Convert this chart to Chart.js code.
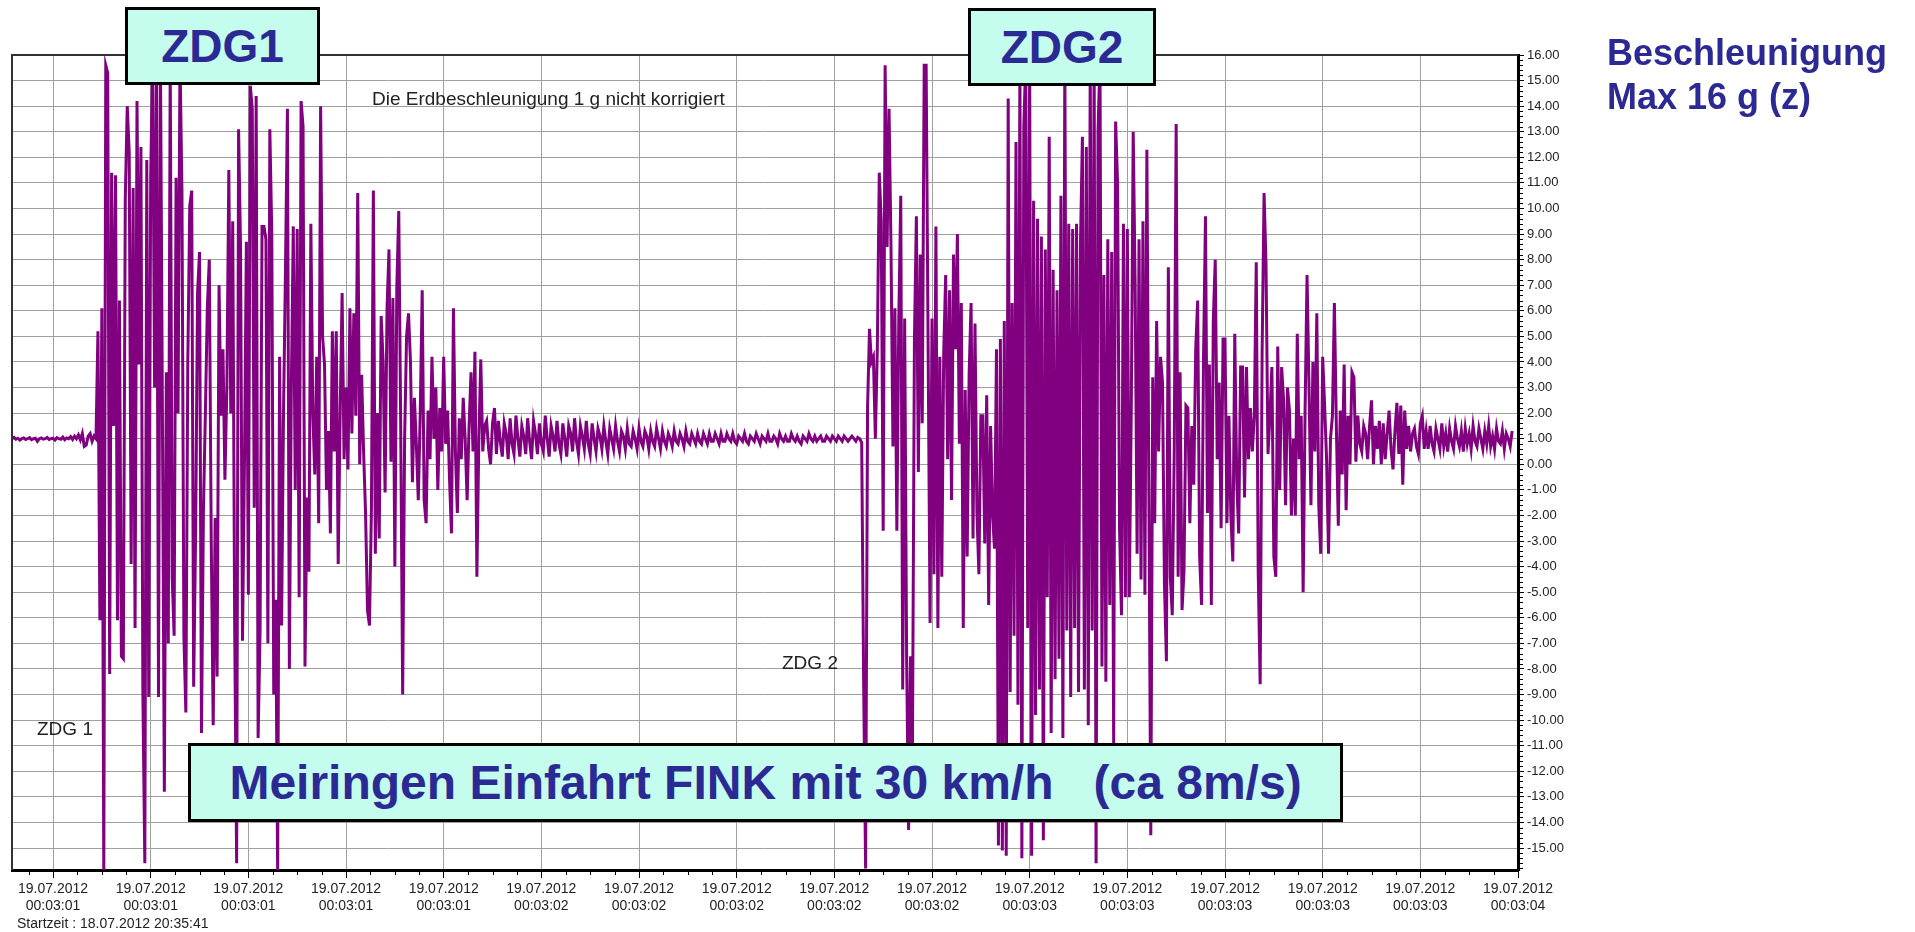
<!DOCTYPE html>
<html>
<head>
<meta charset="utf-8">
<title>Meiringen Einfahrt FINK</title>
<script src="https://cdn.jsdelivr.net/npm/chart.js@4.4.1/dist/chart.umd.min.js"></script>
<style>
  body { margin: 0; background: #fff; }
  #wrap { position: relative; width: 1915px; height: 932px; font-family: "Liberation Sans", Arial, sans-serif; }
  #wrap canvas { position: absolute; left: 0; top: 0; }
  .box { position: absolute; box-sizing: border-box; background: #c4fdee; border: 3px solid #000; color: #2b2a94;
         font-weight: bold; display: flex; align-items: center; justify-content: center; white-space: pre; }
  .note { position: absolute; color: #222; white-space: pre; line-height: 1; }
</style>
</head>
<body>
<div id="wrap">
  <canvas id="chart" width="1915" height="932"></canvas>
  <div class="note" style="left:372px;top:89px;font-size:19px">Die Erdbeschleunigung 1 g nicht korrigiert</div>
  <div class="note" style="left:37px;top:719px;font-size:19px">ZDG 1</div>
  <div class="note" style="left:782px;top:653px;font-size:19px">ZDG 2</div>
  <div class="note" style="left:17px;top:916px;font-size:14px">Startzeit : 18.07.2012 20:35:41</div>
  <div class="box" style="left:125px;top:7px;width:195px;height:78px;font-size:46px">ZDG1</div>
  <div class="box" style="left:968px;top:8px;width:188px;height:78px;font-size:46px">ZDG2</div>
  <div class="box" style="left:188px;top:743px;width:1155px;height:79px;font-size:48px">Meiringen Einfahrt FINK mit 30 km/h   (ca 8m/s)</div>
  <div style="position:absolute;left:1607px;top:31px;font-size:36px;line-height:44px;font-weight:bold;color:#2b2a94">Beschleunigung<br>Max 16 g (z)</div>
</div>
<script>
const FONT = '"Liberation Sans", Arial, sans-serif';

// recording: 250 samples per second, x axis in seconds from record start
const sampleRate = 250;
const tickStart = 0.084;
const tickStep = 0.2;

const xDate = "19.07.2012";
const xTimes = ["00:03:01", "00:03:01", "00:03:01", "00:03:01", "00:03:01",
  "00:03:02", "00:03:02", "00:03:02", "00:03:02", "00:03:02",
  "00:03:03", "00:03:03", "00:03:03", "00:03:03", "00:03:03", "00:03:04"];

const yTicks = [16, 15, 14, 13, 12, 11, 10, 9, 8, 7, 6, 5, 4, 3, 2, 1, 0,
  -1, -2, -3, -4, -5, -6, -7, -8, -9, -10, -11, -12, -13, -14, -15];

// acceleration in g
const quietStart = [1.0, 1.05, 0.98, 1.02, 0.95, 1.0, 1.03, 0.97, 1.0, 1.04,
  0.96, 1.0, 1.02, 0.9, 1.0, 1.03, 0.98, 1.0, 1.05, 0.97,
  1.0, 1.02, 0.95, 1.04, 1.0, 0.98, 1.06, 0.96, 1.03, 1.0,
  1.08, 0.97, 1.1, 1.0, 1.15, 0.95, 1.2, 0.7, 0.75, 1.1,
  1.2, 0.9, 1.1];

const burst1 = [1.0, 5.2, -6.1, 6.1, -15.9, 15.6, 15.3, -8.2, 11.4, 1.5,
  11.3, -6.1, 6.4, -7.5, -7.6, 10.4, 14.0, 12.2, -3.9, 10.8,
  -6.4, 14.2, 3.9, 12.4, -9.0, -15.6, 11.9, -9.1, 11.2, 15.9,
  3.0, 15.9, -9.1, 15.9, 2.0, -12.8, 3.6, -7.0, 15.9, -4.4,
  -6.7, 11.2, 2.0, 15.9, 10.7, -6.7, -9.7, 4.0, 10.1, 10.7,
  -8.7, -2.7, 6.7, 8.3, -10.5, -1.8, 2.0, 6.1, 8.0, -3.0,
  -10.2, -2.1, -8.3, 7.0, 1.9, 4.5, -0.6, 3.0, 11.5, 2.0,
  9.5, -6.4, -15.6, 13.1, 8.5, -6.9, 0.0, 8.7, -5.1, 14.8,
  13.9, -1.7, 14.4, -10.7, -6.5, 9.3, 9.3, 8.8, -7.0, 13.1,
  9.0, -9.0, -5.3, -15.9, 4.2, -6.3, 2.0, 7.6, 13.9, -8.0,
  3.0, 9.3, -1.0, 9.2, -5.2, 14.2, 13.2, -7.9, -1.3, -4.2,
  9.4, 2.0, -0.4, 4.2, -2.3, 14.0, 5.0, 3.9, -1.0, 1.3,
  -2.7, 5.2, 0.5, 5.2, -3.9, 2.0, 6.7, 0.2, 3.0, -0.2,
  6.1, 1.2, 5.9, 1.9, 10.6, 0.0, 3.5, 0.5, -1.9, -5.7,
  -6.3, -1.8, 10.7, -3.5, 2.0, -2.9, 5.8, 4.0, -1.1, 6.1,
  8.4, 0.1, 6.5, -4.0, 6.9, 9.9, 1.5, -9.0, 1.0, 5.0,
  5.9, 4.0, -0.7, 2.6, 0.8, -1.4, 2.0, 6.8, -1.4, -2.3,
  2.1, 0.2, 4.2, 1.0, 3.0, -1.0, 2.2, 0.5, 4.2, 0.8,
  2.1, -0.6, -2.7, 6.1, 0.5, -1.9, 1.8, 0.2, 2.6, 1.0,
  -1.4, 1.5, 3.6, 0.5, 4.4, -4.4, 1.0, 4.1, 0.5, 1.5,
  1.7, 0.6, 0.0, 1.6, 2.2, 0.4];

const quietMid = [1.7, 0.9, 0.3, 1.6, 1.2, 0.2, 1.8, 0.8, 0.4, 1.9,
  1.0, 0.3, 1.5, 1.1, 0.4, 1.8, 0.9, 0.2, 1.7, 1.2,
  0.4, 1.6, 0.8, 0.5, 1.9, 1.0, 0.3, 1.5, 1.1, 0.5,
  1.7, 0.8, 0.4, 1.6, 1.0, 0.3, 1.5, 1.2, 0.5, 1.8,
  0.9, 0.4, 1.5, 1.1, 0.6, 1.7, 0.8, 0.4, 1.6, 1.0,
  0.5, 1.4, 1.1, 0.6, 1.5, 0.9, 0.4, 1.4, 1.0, 0.6,
  1.5, 0.9, 0.5, 1.3, 1.1, 0.6, 1.4, 0.8, 0.7, 1.3,
  1.0, 0.6, 1.4, 0.9, 0.7, 1.3, 1.1, 0.6, 1.3, 0.9,
  0.7, 1.4, 1.0, 0.6, 1.3, 0.9, 0.7, 1.2, 1.0, 0.7,
  1.3, 0.9, 0.8, 1.2, 1.0, 0.7, 1.3, 0.9, 0.8, 1.2,
  1.0, 0.8, 1.2, 0.9, 0.8, 1.2, 1.0, 0.8, 1.2, 0.9,
  0.9, 1.2, 1.0, 0.8, 1.2, 0.9, 0.9, 1.2, 1.0, 0.9,
  1.2, 0.9, 0.8, 1.1, 1.0, 0.9, 1.2, 0.9, 0.8, 1.1,
  1.0, 0.9, 1.2, 1.0, 0.8, 1.1, 1.0, 0.9, 1.2, 0.9,
  0.9, 1.1, 1.0, 0.8, 1.2, 1.0, 0.9, 1.1, 0.9, 0.9,
  1.2, 1.0, 0.9, 1.1, 0.9, 0.8, 1.1, 1.0, 0.9, 1.2,
  1.0, 0.9, 1.1, 0.9, 1.0, 1.1, 0.9, 0.9, 1.1, 1.0,
  0.9, 1.1, 1.0, 0.9, 1.1, 1.0, 0.9, 1.1, 1.0, 0.9,
  1.0, 1.1, 1.0, 0.9, 1.05, 1.0, 0.85];

const burst2 = [-8.5, -15.8, 2.2, 5.3, 4.0, 4.2, 1.0, 4.5, 11.4, 9.5,
  -2.6, 15.6, 8.5, 13.9, 8.5, 0.7, 6.1, -2.6, 5.7, 10.5,
  -8.8, 5.7, -7.5, -14.3, -7.5, -10.9, 4.9, 9.7, -0.3, 8.2,
  1.6, 15.6, 15.6, 4.7, -6.2, 5.7, -4.3, 9.3, -6.4, 4.2,
  -4.4, 4.4, 7.4, 0.2, 6.8, -1.4, 8.2, 4.5, 9.0, 0.8,
  6.3, -6.4, 2.9, -3.6, 3.5, 6.3, -2.9, 5.5, -1.9, -4.3,
  1.9, 1.9, -3.1, 2.7, -5.5, 1.5, -2.0, -3.3, 4.5, -14.9,
  4.9, -15.1, 5.6, -15.3, 14.3, -8.9, 6.3, -6.7, 12.6, -9.4,
  15.9, -15.4, 13.2, 15.9, -6.4, 15.9, -15.3, 10.3, -9.8, 9.6,
  -8.8, 8.9, -14.7, 8.4, -5.2, 12.8, -10.5, 7.6, -8.4, 6.8,
  -7.6, 10.5, -10.7, 15.9, -6.5, 9.4, -9.1, 9.2, -6.4, 9.4,
  -8.9, 8.6, 12.8, -8.8, 12.4, -10.2, 15.9, -6.5, 15.9, -15.6,
  13.0, 15.9, -7.9, 7.4, -8.5, 8.8, -5.5, 8.3, -10.9, 13.4,
  11.0, -2.5, -5.9, 9.4, -5.2, 9.2, -5.2, 2.0, 13.0, 7.0,
  -3.5, 8.8, -4.5, 9.5, -5.1, 12.3, -0.8, -14.5, 3.4, -2.3,
  5.6, 0.5, 4.2, 3.2, -4.7, -7.7, 7.7, -4.4, -5.9, 0.5,
  13.3, -4.4, 3.6, -5.7, -4.2, 2.3, 2.2, -2.3, 1.5, -0.8,
  4.5, 6.4, -3.6, -5.5, 4.2, 9.7, -1.9, 3.9, -5.5, 5.6,
  8.0, 0.2, 3.2, -2.5, 4.9, 4.9, -2.3, 1.9, -2.0, -3.8,
  5.1, -0.6, -2.7, 3.8, 3.8, -1.3, 3.8, 0.2, 2.2, 0.5,
  1.9, 7.9, -4.2, -8.6, 4.4, 10.6, 7.8, 0.4, 1.9, 3.8,
  -3.6, -4.4, 4.6, -1.0, 3.8, 2.5, -1.6, 3.0, 2.1, -2.0,
  1.0, -2.0, 5.1, 0.2, 1.9, -5.0, 2.1, 7.4, 3.0, -1.6,
  4.0, 0.5, 5.9, -1.6, -3.5, 4.2, 2.3, 0.2, -3.5, 1.0,
  1.9, 6.3, 1.5, -2.4, 2.1, -0.4, 3.9, -1.8, 1.9, 0.0,
  3.6, 3.4, 0.1, 1.9, 0.8, 0.5, 1.5, 1.2, 0.2, 1.5,
  2.5, 0.0, 1.5, 0.6, 1.7, 0.0, 1.6, 0.2, 1.2, 2.1,
  0.6, -0.2, 1.3, 2.4, 0.4, 2.3, -0.8, 2.1, 0.6, 1.5,
  0.5, 1.2, 1.4, 0.7, 0.4, 1.6, 1.9, 0.6];

const quietEnd = [1.3, 0.6, 1.5, 0.8, 0.5, 1.4, 1.0, 0.6, 1.6, 0.7,
  1.2, 0.5, 1.4, 0.9, 0.6, 1.5, 1.0, 0.7, 1.3, 0.5,
  1.4, 0.8, 1.2, 0.6, 1.5, 0.9, 0.7, 1.4, 1.0, 0.6,
  1.3, 0.8, 1.5, 0.7, 1.1, 0.6, 1.4, 0.9, 0.8, 1.3,
  0.6, 1.2, 1.0, 0.7, 1.3];

const accel = [...quietStart, ...burst1, ...quietMid, ...burst2, ...quietEnd];
const points = accel.map((g, i) => ({ x: i / sampleRate, y: g }));

// left/top frame and the small minor ticks on both axes
const framePlugin = {
  id: "frame",
  afterDatasetsDraw(chart) {
    const { ctx, chartArea: a, scales } = chart;
    ctx.save();
    ctx.strokeStyle = "#333";
    ctx.lineWidth = 2;
    ctx.beginPath();
    ctx.moveTo(a.left, a.bottom);
    ctx.lineTo(a.left, a.top);
    ctx.lineTo(a.right, a.top);
    ctx.stroke();

    ctx.strokeStyle = "#000";
    ctx.lineWidth = 1;
    ctx.beginPath();
    for (let k = -4; k <= 64; k++) {
      if (k % 4 === 0) continue;
      const t = tickStart + k * tickStep / 4;
      if (t < scales.x.min || t > scales.x.max) continue;
      const px = Math.round(scales.x.getPixelForValue(t)) + 0.5;
      ctx.moveTo(px, a.bottom + 1);
      ctx.lineTo(px, a.bottom + 5);
    }
    for (let k = -80; k <= 80; k++) {
      if (k % 5 === 0) continue;
      const v = k * 0.2;
      if (v < scales.y.min || v > scales.y.max) continue;
      const py = Math.round(scales.y.getPixelForValue(v)) + 0.5;
      ctx.moveTo(a.right + 1, py);
      ctx.lineTo(a.right + 5, py);
    }
    ctx.stroke();
    ctx.restore();
  }
};

new Chart(document.getElementById("chart"), {
  type: "line",
  data: {
    datasets: [{
      data: points,
      borderColor: "#800080",
      borderWidth: 3,
      pointRadius: 0,
      tension: 0,
      fill: false
    }]
  },
  options: {
    responsive: false,
    animation: false,
    devicePixelRatio: 1,
    layout: { padding: { left: 12, top: 55, right: 0, bottom: 0 } },
    plugins: { legend: { display: false }, tooltip: { enabled: false } },
    scales: {
      x: {
        type: "linear",
        min: 0,
        max: tickStart + (xTimes.length - 1) * tickStep,
        afterBuildTicks: (s) => { s.ticks = xTimes.map((t, k) => ({ value: tickStart + k * tickStep })); },
        afterFit: (s) => { s.height = 62; },
        ticks: {
          autoSkip: false,
          maxRotation: 0,
          padding: 3,
          color: "#222",
          font: { family: FONT, size: 14 },
          callback: (v, k) => [xDate, xTimes[k]]
        },
        grid: { color: "#a0a0a0", tickColor: "#000", tickLength: 8 },
        border: { color: "#000", width: 3 }
      },
      y: {
        position: "right",
        min: -15.86,
        max: 16,
        afterBuildTicks: (s) => { s.ticks = yTicks.map((v) => ({ value: v })); },
        afterFit: (s) => { s.width = 397; },
        ticks: {
          padding: 3,
          color: "#222",
          font: { family: FONT, size: 13 },
          callback: (v) => v.toFixed(2)
        },
        grid: { color: "#a0a0a0", tickColor: "#000", tickLength: 6 },
        border: { color: "#000", width: 3 }
      }
    }
  },
  plugins: [framePlugin]
});
</script>
</body>
</html>
